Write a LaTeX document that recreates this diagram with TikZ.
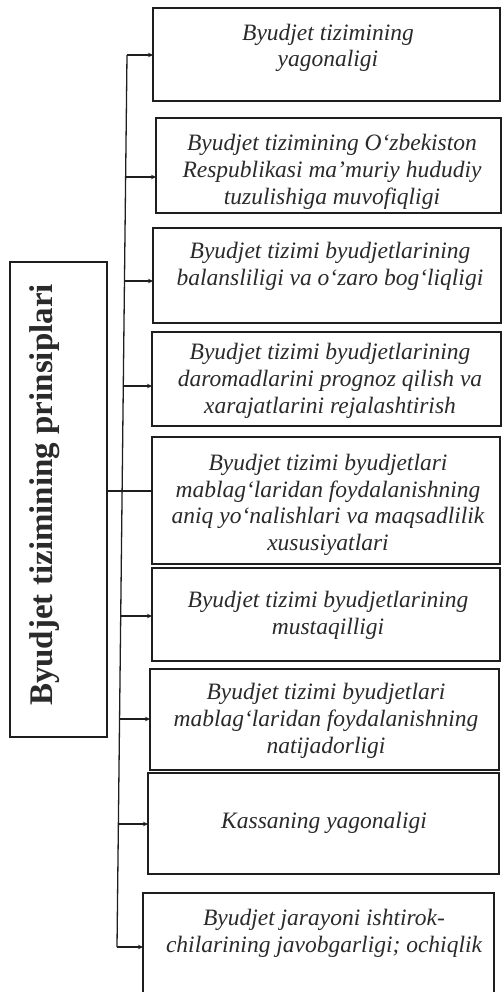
\documentclass[tikz,border=0pt]{standalone}
\usepackage{fontspec}
\setmainfont{Liberation Serif}
\usetikzlibrary{arrows.meta}
\definecolor{ink}{HTML}{1E1E1E}
\definecolor{txtc}{HTML}{2A2A2A}
\begin{document}
\begin{tikzpicture}[x=1pt,y=-1pt,
  box/.style={draw=ink, line width=1.3pt, inner sep=0pt, outer sep=0pt},
  txt/.style={align=center, inner sep=0pt, text=txtc, font=\itshape\fontsize{23.5}{26.7}\selectfont},
  mainlbl/.style={inner sep=0pt, text=txtc, rotate=90, font=\bfseries\fontsize{33}{36}\selectfont},
  bus/.style={draw=ink, line width=1.3pt},
  arr/.style={draw=ink, line width=1.3pt, -{Stealth[length=5pt,width=4.5pt]}}]
\useasboundingbox (0,0) rectangle (501,992);
% main box
\node[box, minimum width=97pt, minimum height=475pt] (m) at (58.5,499.5) {};
\node[mainlbl] (ml) at (45,495) {Byudjet tizimining prinsiplari};
% right boxes (left, top, right, bottom)
\node[box, minimum width=347pt, minimum height=93pt]  (b1) at (326.5,54.5) {};
\node[box, minimum width=345pt, minimum height=95pt]  (b2) at (328.5,165.5) {};
\node[box, minimum width=348pt, minimum height=95pt]  (b3) at (327,275.5) {};
\node[box, minimum width=349pt, minimum height=94pt]  (b4) at (326.5,379) {};
\node[box, minimum width=348pt, minimum height=127pt] (b5) at (326,500.5) {};
\node[box, minimum width=348pt, minimum height=93pt]  (b6) at (326,614.5) {};
\node[box, minimum width=349pt, minimum height=101pt] (b7) at (324.5,719.5) {};
\node[box, minimum width=351pt, minimum height=101pt] (b8) at (323.5,823.5) {};
\node[box, minimum width=351pt, minimum height=105pt] (b9) at (318.5,945.5) {};
% texts
\node[txt] (t1) at (328,48) {Byudjet tizimining\\yagonaligi};
\node[txt] (t2) at (332,172) {Byudjet tizimining O‘zbekiston\\Respublikasi ma’muriy hududiy\\tuzulishiga muvofiqligi};
\node[txt] (t3) at (330,266) {Byudjet tizimi byudjetlarining\\balansliligi va o‘zaro bog‘liqligi};
\node[txt] (t4) at (330,381) {Byudjet tizimi byudjetlarining\\daromadlarini prognoz qilish va\\xarajatlarini rejalashtirish};
\node[txt] (t5) at (328,505) {Byudjet tizimi byudjetlari\\mablag‘laridan foydalanishning\\aniq yo‘nalishlari va maqsadlilik\\xususiyatlari};
\node[txt] (t6) at (328,615) {Byudjet tizimi byudjetlarining\\mustaqilligi};
\node[txt] (t7) at (326,721) {Byudjet tizimi byudjetlari\\mablag‘laridan foydalanishning\\natijadorligi};
\node[txt] (t8) at (324,823) {Kassaning yagonaligi};
\node[txt] (t9) at (324,933) {Byudjet jarayoni ishtirok-\\chilarining javobgarligi; ochiqlik};
% bus coordinates
\coordinate (p1) at (127,55);
\coordinate (p2) at (125.6,177);
\coordinate (p3) at (124.5,281);
\coordinate (p4) at (123.3,386);
\coordinate (p5) at (122.1,491);
\coordinate (p6) at (120.7,616);
\coordinate (p7) at (119.6,719);
\coordinate (p8) at (118.4,824);
\coordinate (p9) at (117,947);
\draw[bus] (p1) -- (p9);
\draw[bus] (m.east |- p5) -- (p5 -| b5.west);
\draw[arr] (p1) -- (p1 -| b1.west);
\draw[arr] (p2) -- (p2 -| b2.west);
\draw[arr] (p3) -- (p3 -| b3.west);
\draw[arr] (p4) -- (p4 -| b4.west);
\draw[arr] (p6) -- (p6 -| b6.west);
\draw[arr] (p7) -- (p7 -| b7.west);
\draw[arr] (p8) -- (p8 -| b8.west);
\draw[arr] (p9) -- (p9 -| b9.west);
\end{tikzpicture}
\end{document}
